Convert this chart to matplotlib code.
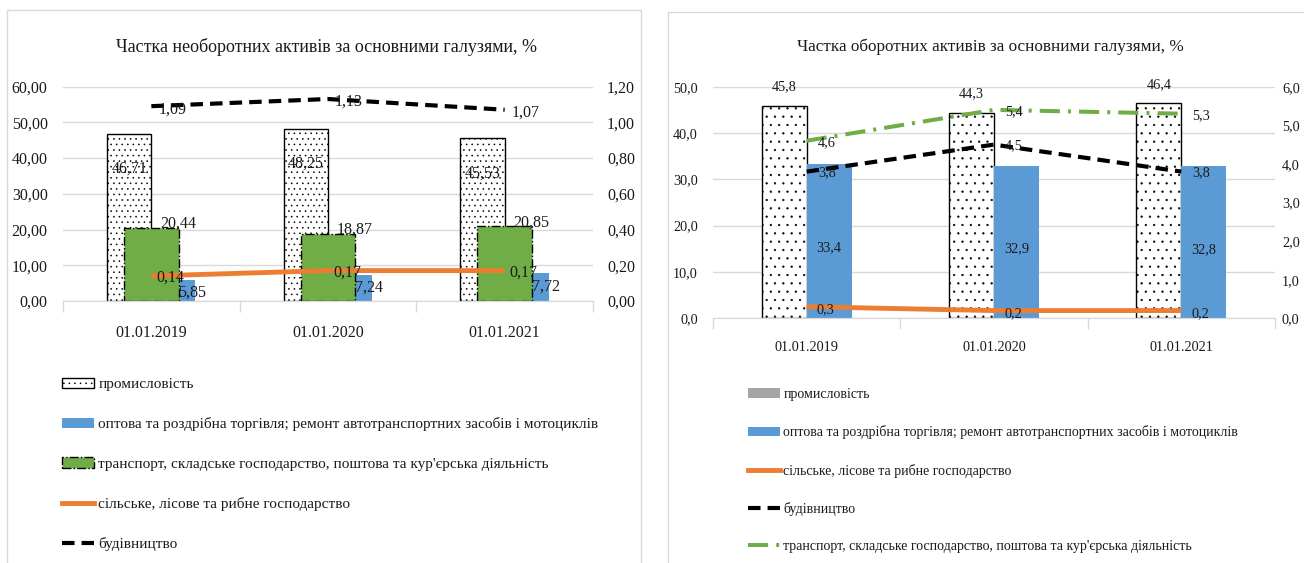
import matplotlib
matplotlib.use("Agg")
import matplotlib.pyplot as plt
from matplotlib.patches import Patch, Rectangle
from matplotlib.lines import Line2D
from matplotlib.ticker import FixedLocator, FuncFormatter

plt.rcParams["font.family"] = ["Liberation Serif", "DejaVu Serif"]
plt.rcParams["hatch.linewidth"] = 0.4

dates = ["01.01.2019", "01.01.2020", "01.01.2021"]

# необоротні активи, %
nca_industry = [46.71, 48.25, 45.53]
nca_trade = [5.85, 7.24, 7.72]
nca_transport = [20.44, 18.87, 20.85]
nca_agro = [0.14, 0.17, 0.17]
nca_constr = [1.09, 1.13, 1.07]

# оборотні активи, %
ca_industry = [45.8, 44.3, 46.4]
ca_trade = [33.4, 32.9, 32.8]
ca_agro = [0.3, 0.2, 0.2]
ca_constr = [3.8, 4.5, 3.8]
ca_transport = [4.6, 5.4, 5.3]

lbl_industry = "промисловість"
lbl_trade = "оптова та роздрібна торгівля; ремонт автотранспортних засобів і мотоциклів"
lbl_transport = "транспорт, складське господарство, поштова та кур'єрська діяльність"
lbl_agro = "сільське, лісове та рибне господарство"
lbl_constr = "будівництво"

BLUE = "#5b9bd5"
GREEN = "#70ad47"
ORANGE = "#ed7d31"
GREY = "#a5a5a5"
GRID = "#d9d9d9"
TXT = "#1a1a1a"

DASHED = (0, (3, 1.7))
DASHDOT = (0, (5, 2, 0.75, 2))


def comma(v, nd):
    return f"{v:.{nd}f}".replace(".", ",")


def style_axes(ax, ax2, ymax, ystep, y2max, y2step, nd, xpad, fs, pad2):
    x = range(len(dates))
    ax.set_xlim(-0.5, len(dates) - 0.5)
    ax.set_ylim(0, ymax)
    ax2.set_ylim(0, y2max)
    ax.yaxis.set_major_locator(FixedLocator([i * ystep for i in range(int(round(ymax / ystep)) + 1)]))
    ax2.yaxis.set_major_locator(FixedLocator([i * y2step for i in range(int(round(y2max / y2step)) + 1)]))
    ax.yaxis.set_major_formatter(FuncFormatter(lambda v, p: comma(v, nd)))
    ax2.yaxis.set_major_formatter(FuncFormatter(lambda v, p: comma(v, nd)))
    ax.set_xticks(list(x))
    ax.set_xticklabels(dates)
    ax.set_xticks([i - 0.5 for i in range(len(dates) + 1)], minor=True)
    ax.tick_params(axis="x", which="major", length=0, pad=xpad, labelsize=fs, labelcolor=TXT)
    ax.tick_params(axis="x", which="minor", length=8, width=1, color=GRID, direction="out")
    ax.tick_params(axis="y", length=0, pad=11, labelsize=fs, labelcolor=TXT)
    ax2.tick_params(axis="y", length=0, pad=pad2, labelsize=fs, labelcolor=TXT)
    ax.grid(axis="y", color=GRID, lw=1)
    ax.set_axisbelow(True)
    for a in (ax, ax2):
        for s in ("top", "left", "right"):
            a.spines[s].set_visible(False)
        a.spines["bottom"].set_color(GRID)


def label_points(ax, xs, vals, nd, dx, dy, fs):
    for x, v in zip(xs, vals):
        ax.annotate(comma(v, nd), (x, v), xytext=(dx, dy), textcoords="offset pixels",
                    ha="center", va="center", fontsize=fs, color=TXT, zorder=6)


fig = plt.figure(figsize=(13.04, 5.63), dpi=100)

# panel frames
fig.add_artist(Rectangle((7 / 1304, -0.05), 634 / 1304, 1.05 - 10 / 563, transform=fig.transFigure,
                         fill=False, edgecolor=GRID, lw=1))
fig.add_artist(Rectangle((668 / 1304, -0.05), 0.6, 1.05 - 12 / 563, transform=fig.transFigure,
                         fill=False, edgecolor=GRID, lw=1))

# ---- left: non-current assets ----
FS_L = 11.5
axL = fig.add_axes([63 / 1304, 1 - 301 / 563, 530 / 1304, 214.5 / 563])
axL2 = axL.twinx()
x = list(range(len(dates)))
w = 0.25
xi = [i - 0.125 for i in x]
xt = [i + 0.125 for i in x]
axL.bar(xi, nca_industry, w, facecolor="white", edgecolor="black", hatch="...", lw=1, zorder=2)
axL.bar(xt, nca_trade, w, color=BLUE, zorder=2)
axL.bar(x, nca_transport, 0.31, facecolor=GREEN, edgecolor="black", linestyle="-.", lw=1, zorder=3)
axL2.plot(x, nca_agro, color=ORANGE, lw=3.5, solid_capstyle="butt")
axL2.plot(x, nca_constr, color="black", lw=3, linestyle=DASHED)
style_axes(axL, axL2, 60, 10, 1.2, 0.2, 2, 17, FS_L, 10)

label_points(axL, xi, nca_industry, 2, 0, -35, FS_L)
label_points(axL, x, nca_transport, 2, 27, 4, FS_L)
label_points(axL, xt, nca_trade, 2, 19, -13, FS_L)
label_points(axL2, x, nca_agro, 2, 19, -2, FS_L)
label_points(axL2, x, nca_constr, 2, 21, -3, FS_L)

fig.text(326 / 1304, 1 - 47 / 563, "Частка необоротних активів за основними галузями, %",
         ha="center", va="center", fontsize=13, color=TXT)

hL = [Patch(facecolor="white", edgecolor="black", hatch="...", lw=1),
      Patch(facecolor=BLUE),
      Patch(facecolor=GREEN, edgecolor="black", linestyle="-.", lw=1),
      Line2D([], [], color=ORANGE, lw=3.5),
      Line2D([], [], color="black", lw=3, linestyle=DASHED)]
fig.legend(hL, [lbl_industry, lbl_trade, lbl_transport, lbl_agro, lbl_constr],
           loc="upper left", bbox_to_anchor=(54 / 1304, 1 - 370 / 563), frameon=False,
           fontsize=11, borderpad=0, labelspacing=1.7, handlelength=2.15, handletextpad=0.25,
           labelcolor=TXT)

# ---- right: current assets ----
FS_R = 10.3
axR = fig.add_axes([713 / 1304, 1 - 318.3 / 563, 562 / 1304, 231.6 / 563])
axR2 = axR.twinx()
w = 0.24
xi = [i - 0.12 for i in x]
xt = [i + 0.12 for i in x]
axR.bar(xi, ca_industry, w, facecolor="white", edgecolor="black", hatch="..", lw=1, zorder=2)
axR.bar(xt, ca_trade, w, color=BLUE, zorder=2)
axR2.plot(x, ca_agro, color=ORANGE, lw=3.5, solid_capstyle="butt")
axR2.plot(x, ca_constr, color="black", lw=3, linestyle=DASHED)
axR2.plot(x, ca_transport, color=GREEN, lw=2.9, linestyle=DASHDOT)
style_axes(axR, axR2, 50, 10, 6, 1, 1, 16, FS_R, 5)

label_points(axR, xi, ca_industry, 1, 0, 19, FS_R)
for xx, v in zip(xt, ca_trade):
    axR.annotate(comma(v, 1), (xx, v / 2), xytext=(0, -7), textcoords="offset pixels",
                 ha="center", va="center", fontsize=FS_R, color=TXT)
label_points(axR2, x, ca_agro, 1, 19, -3, FS_R)
label_points(axR2, x, ca_constr, 1, 20, -1, FS_R)
label_points(axR2, x, ca_transport, 1, 20, -2, FS_R)

fig.text(990 / 1304, 1 - 47 / 563, "Частка оборотних активів за основними галузями, %",
         ha="center", va="center", fontsize=12.3, color=TXT)

hR = [Patch(facecolor=GREY),
      Patch(facecolor=BLUE),
      Line2D([], [], color=ORANGE, lw=3.5),
      Line2D([], [], color="black", lw=3, linestyle=DASHED),
      Line2D([], [], color=GREEN, lw=2.9, linestyle=DASHDOT)]
fig.legend(hR, [lbl_industry, lbl_trade, lbl_agro, lbl_constr, lbl_transport],
           loc="upper left", bbox_to_anchor=(741 / 1304, 1 - 381 / 563), frameon=False,
           fontsize=10, borderpad=0, labelspacing=1.75, handlelength=2.3, handletextpad=0.25,
           labelcolor=TXT)

fig.savefig("out.png", dpi=100)
